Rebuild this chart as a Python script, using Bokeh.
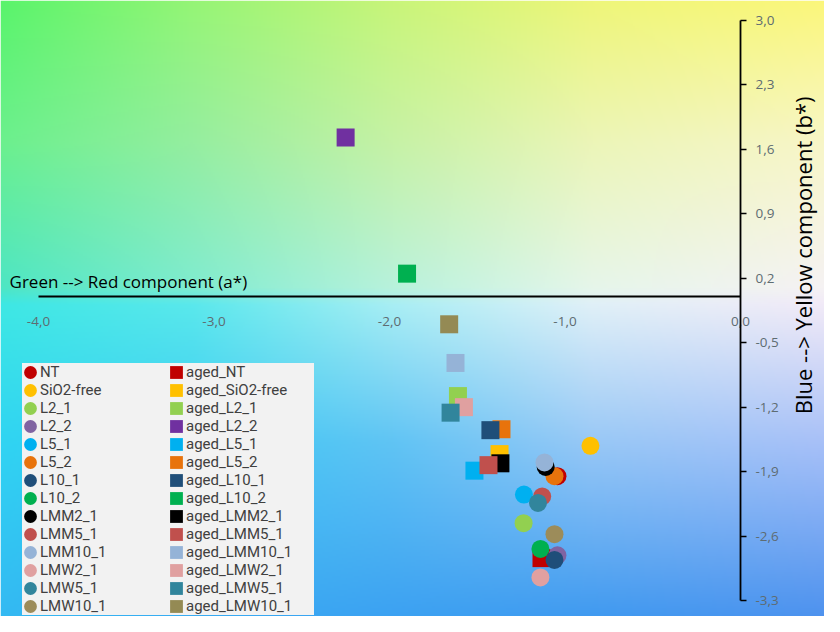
import numpy as np
from bokeh.plotting import figure
from bokeh.models import (LinearAxis, FixedTicker, Label, Legend, LegendItem,
                          ColumnDataSource, Range1d)
from bokeh.embed import file_html
from bokeh.resources import INLINE

# ---------------- data ----------------
sample_names = ["NT", "SiO2-free", "L2_1", "L2_2", "L5_1", "L5_2", "L10_1",
                "L10_2", "LMM2_1", "LMM5_1", "LMM10_1", "LMW2_1", "LMW5_1",
                "LMW10_1"]
fresh_a = [-1.043, -0.855, -1.236, -1.043, -1.234, -1.060, -1.060,
           -1.140, -1.110, -1.130, -1.117, -1.140, -1.154, -1.060]
fresh_b = [-1.95, -1.62, -2.46, -2.81, -2.15, -1.95, -2.86,
           -2.74, -1.85, -2.17, -1.80, -3.05, -2.24, -2.58]
aged_names = ["aged_" + n for n in sample_names]
aged_a = [-1.134, -1.373, -1.610, -2.250, -1.516, -1.362, -1.425,
          -1.900, -1.368, -1.436, -1.624, -1.576, -1.652, -1.660]
aged_b = [-2.84, -1.71, -1.08, 1.73, -1.89, -1.44, -1.45,
          0.25, -1.81, -1.83, -0.72, -1.20, -1.26, -0.30]
fresh_colors = ["#c00000", "#ffc000", "#92d050", "#8064a2", "#00b0f0", "#e8730c",
                "#1f4e79", "#00b050", "#000000", "#c0504d", "#95b3d7", "#e0a0a0",
                "#31859c", "#9c8c5a"]
aged_colors = ["#c00000", "#ffc000", "#92d050", "#7030a0", "#00b0f0", "#e8730c",
               "#1f4e79", "#00b050", "#000000", "#c0504d", "#95b3d7", "#e0a0a0",
               "#31859c", "#948a54"]
x_ticks = [-4.0, -3.0, -2.0, -1.0, 0.0]
x_tick_labels = ["-4,0", "-3,0", "-2,0", "-1,0", "0,0"]
y_ticks = [3.0, 2.3, 1.6, 0.9, 0.2, -0.5, -1.2, -1.9, -2.6, -3.3]
y_tick_labels = ["3,0", "2,3", "1,6", "0,9", "0,2", "-0,5", "-1,2", "-1,9", "-2,6", "-3,3"]

# ---------------- figure ----------------
W, H = 824, 616
X0, X1 = -4.2165, 0.4786
Y0, Y1 = -3.474, 3.217

p = figure(width=W, height=H, x_range=Range1d(X0, X1), y_range=Range1d(Y0, Y1),
           x_axis_type=None, y_axis_type=None, output_backend="svg",
           toolbar_location=None, min_border=0, outline_line_color=None,
           border_fill_color="white")

# background colour field (decoration)
def hex2rgb(h):
    h = h.lstrip("#")
    return [int(h[i:i + 2], 16) for i in (0, 2, 4)]

grad_cols = [10, 200, 400, 600, 838]
grad_rows = [10, 150, 295, 312, 450, 632]
grad_hex = [
    ["#5af46c", "#95f576", "#c8f57a", "#eef67a", "#fcf77c"],
    ["#6cf08e", "#95eea0", "#c6f2a6", "#ecf5b8", "#f8f6c8"],
    ["#4ee6c4", "#80ecd0", "#b8f2dc", "#e6f6ea", "#f6f2f4"],
    ["#3ee8e4", "#5ae8ec", "#a8eef4", "#e0f0f8", "#f2eaf8"],
    ["#30d4f2", "#3ccaf4", "#60c4f4", "#98c8f6", "#a8c0f8"],
    ["#34b8f2", "#38aaf2", "#3aa0f2", "#3c98f0", "#4a90ee"],
]
anch = np.array([[hex2rgb(c) for c in row] for row in grad_hex], dtype=float)
GW, GH = W // 2, H // 2
px = 8 + (np.arange(GW) + 0.5) * 2
py = 8 + (np.arange(GH) + 0.5) * 2
rows_interp = np.zeros((len(grad_rows), GW, 3))
for r in range(len(grad_rows)):
    for c in range(3):
        rows_interp[r, :, c] = np.interp(px, grad_cols, anch[r, :, c])
rgb = np.zeros((GH, GW, 3))
for j in range(GW):
    for c in range(3):
        rgb[:, j, c] = np.interp(py, grad_rows, rows_interp[:, j, c])
rgba = np.zeros((GH, GW, 4), dtype=np.uint8)
rgba[..., :3] = np.clip(rgb, 0, 255).astype(np.uint8)
rgba[..., 3] = 255
img = rgba[::-1].copy().view(np.uint32).reshape(GH, GW)
p.image_rgba(image=[img], x=X0, y=Y0, dw=X1 - X0, dh=Y1 - Y0)

# axes crossing at the origin
xaxis = LinearAxis(fixed_location=0, bounds=(-4, 0),
                   ticker=FixedTicker(ticks=x_ticks),
                   major_label_overrides=dict(zip(x_ticks, x_tick_labels)),
                   axis_line_color="black", axis_line_width=1.8,
                   major_tick_line_color=None, minor_tick_line_color=None,
                   major_label_standoff=14,
                   major_label_text_font="Open Sans",
                   major_label_text_font_size="13.5px",
                   major_label_text_color="#5e6c72")
p.add_layout(xaxis, "below")

yaxis = LinearAxis(fixed_location=0, bounds=(-3.3, 3.0),
                   ticker=FixedTicker(ticks=y_ticks),
                   major_label_overrides=dict(zip(y_ticks, y_tick_labels)),
                   axis_line_color="black", axis_line_width=1.8,
                   major_tick_line_color="black", major_tick_line_width=1.4,
                   major_tick_out=6, major_tick_in=0,
                   minor_tick_line_color=None,
                   major_label_standoff=9,
                   major_label_text_font="Open Sans",
                   major_label_text_font_size="13.5px",
                   major_label_text_color="#5e6c72")
p.add_layout(yaxis, "right")

p.add_layout(Label(x=-4.165, y=0.165, text="Green --> Red component (a*)",
                   text_baseline="middle", text_align="left",
                   text_font="Open Sans", text_font_size="17px",
                   text_color="black"))
p.add_layout(Label(x=0.355, y=0.48, text="Blue --> Yellow component  (b*)",
                   angle=90, angle_units="deg",
                   text_baseline="middle", text_align="center",
                   text_font="Open Sans", text_font_size="22px",
                   text_color="black"))

# markers (series drawn in Excel order: each sample then its aged version)
fresh_r, aged_r = [], []
for i in range(len(sample_names)):
    s1 = ColumnDataSource(dict(a=[fresh_a[i]], b=[fresh_b[i]]))
    r1 = p.ellipse("a", "b", source=s1, width=18, height=18,
                   width_units="screen", height_units="screen",
                   fill_color=fresh_colors[i], line_color=None)
    s2 = ColumnDataSource(dict(a=[aged_a[i]], b=[aged_b[i]]))
    r2 = p.rect("a", "b", source=s2, width=18, height=18,
                width_units="screen", height_units="screen",
                fill_color=aged_colors[i], line_color=None)
    fresh_r.append(r1)
    aged_r.append(r2)

items = [LegendItem(label=n, renderers=[r]) for n, r in zip(sample_names, fresh_r)]
items += [LegendItem(label=n, renderers=[r]) for n, r in zip(aged_names, aged_r)]
legend = Legend(items=items, location=(22, 1), orientation="vertical", nrows=14,
                background_fill_color="#f2f2f2", background_fill_alpha=1.0,
                border_line_color=None, padding=1, margin=0, spacing=0,
                glyph_width=16, glyph_height=16, label_height=18,
                label_width=128, label_standoff=2,
                label_text_font="Roboto", label_text_font_size="15px",
                label_text_color="#404040")
p.add_layout(legend, "center")

open("out.html", "w").write(file_html(p, INLINE))
